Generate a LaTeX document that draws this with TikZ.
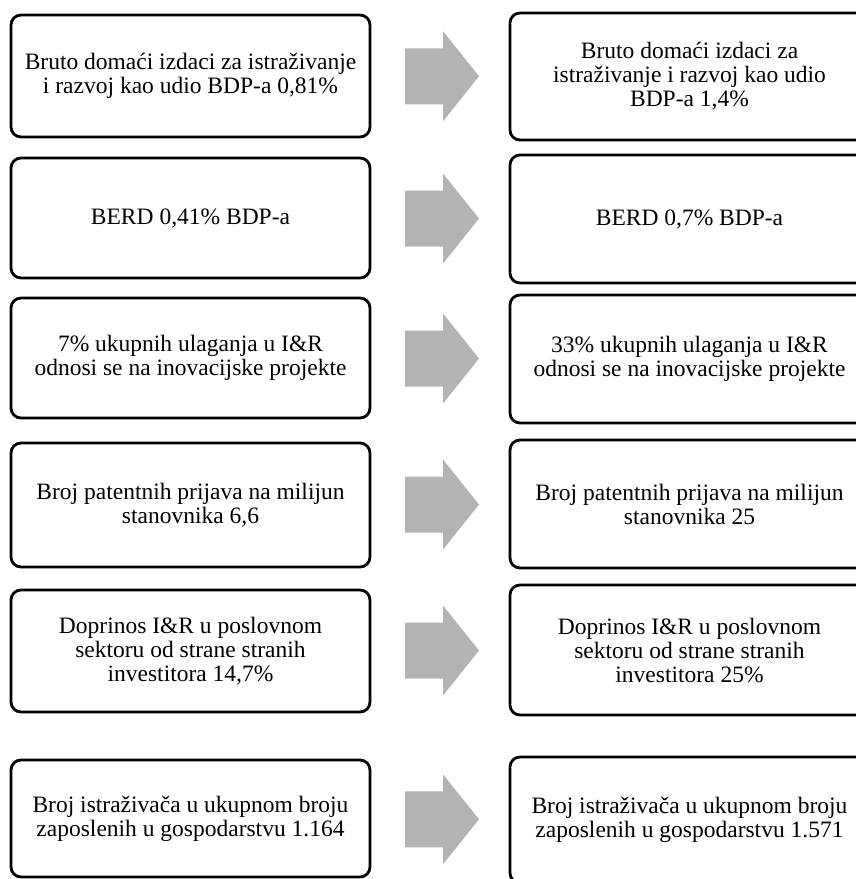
\documentclass[tikz,border=0pt]{standalone}
\usepackage{fontspec}
\setmainfont{Liberation Serif}
\usetikzlibrary{calc}
\definecolor{arrowgray}{RGB}{179,179,179}
\tikzset{
  box/.style={draw=black, line width=2.8pt, rounded corners=10pt, fill=white,
    align=center, inner sep=0pt, minimum width=359pt,
    font=\fontsize{23.5}{24}\selectfont},
}
\newcommand{\blockarrow}[1]{%
  \fill[arrowgray] (#1) ++(-37,-28) -- ++(38,0) -- ++(0,-17) -- ++(36,45)
    -- ++(-36,45) -- ++(0,-17) -- ++(-38,0) -- cycle;}
\begin{document}
\begin{tikzpicture}[x=1pt, y=-1pt]
\useasboundingbox (0,0) rectangle (855,879);
% left column
\node[box, minimum height=122pt] (L1) at (190.5,76) {Bruto domaći izdaci za istraživanje\\i razvoj kao udio BDP-a 0,81\%};
\node[box, minimum height=120pt] (L2) at (190.5,218) {BERD 0,41\% BDP-a};
\node[box, minimum height=120pt] (L3) at (190.5,358) {7\% ukupnih ulaganja u I\&R\\odnosi se na inovacijske projekte};
\node[box, minimum height=124pt] (L4) at (190.5,505) {Broj patentnih prijava na milijun\\stanovnika 6,6};
\node[box, minimum height=122pt] (L5) at (190.5,651) {Doprinos I\&R u poslovnom\\sektoru od strane stranih\\investitora 14,7\%};
\node[box, minimum height=117pt] (L6) at (190.5,818.5) {Broj istraživača u ukupnom broju\\zaposlenih u gospodarstvu 1.164};
% right column
\node[box, minimum height=127pt] (R1) at (689.5,76.5) {Bruto domaći izdaci za\\istraživanje i razvoj kao udio\\BDP-a 1,4\%};
\node[box, minimum height=128pt] (R2) at (689.5,219) {BERD 0,7\% BDP-a};
\node[box, minimum height=128pt] (R3) at (689.5,359) {33\% ukupnih ulaganja u I\&R\\odnosi se na inovacijske projekte};
\node[box, minimum height=128pt] (R4) at (689.5,504) {Broj patentnih prijava na milijun\\stanovnika 25};
\node[box, minimum height=130pt] (R5) at (689.5,650) {Doprinos I\&R u poslovnom\\sektoru od strane stranih\\investitora 25\%};
\node[box, minimum height=126pt] (R6) at (689.5,820) {Broj istraživača u ukupnom broju\\zaposlenih u gospodarstvu 1.571};
% block arrows between the columns
\foreach \i in {1,...,6} {
  \coordinate (a\i) at ($(L\i.east)!0.5!(R\i.west)+(2,0)$);
  \blockarrow{a\i}
}
\end{tikzpicture}
\end{document}
